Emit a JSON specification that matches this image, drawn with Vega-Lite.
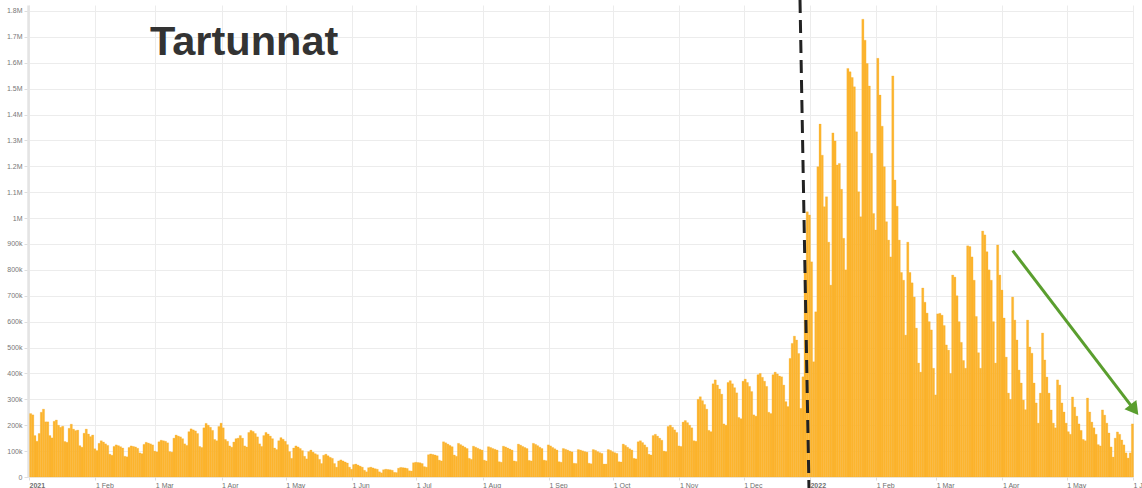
{
"$schema":"https://vega.github.io/schema/vega-lite/v6.json",
"width":1105,"height":472,"autosize":"none",
"padding":{"left":28,"top":5,"right":9,"bottom":11},
"background":"white",
"config":{"view":{"stroke":null},"font":"Liberation Sans"},
"datasets":{
"cases":[
{"date":"2021-01-01","cases":245000},{"date":"2021-01-02","cases":240000},{"date":"2021-01-03","cases":160000},{"date":"2021-01-04","cases":138000},{"date":"2021-01-05","cases":168000},{"date":"2021-01-06","cases":250000},{"date":"2021-01-07","cases":262000},{"date":"2021-01-08","cases":213000},{"date":"2021-01-09","cases":213000},{"date":"2021-01-10","cases":160000},{"date":"2021-01-11","cases":151000},{"date":"2021-01-12","cases":215000},{"date":"2021-01-13","cases":220000},{"date":"2021-01-14","cases":200000},{"date":"2021-01-15","cases":192000},{"date":"2021-01-16","cases":196000},{"date":"2021-01-17","cases":137000},{"date":"2021-01-18","cases":134000},{"date":"2021-01-19","cases":188000},{"date":"2021-01-20","cases":204000},{"date":"2021-01-21","cases":185000},{"date":"2021-01-22","cases":179000},{"date":"2021-01-23","cases":181000},{"date":"2021-01-24","cases":121000},{"date":"2021-01-25","cases":115000},{"date":"2021-01-26","cases":169000},{"date":"2021-01-27","cases":185000},{"date":"2021-01-28","cases":166000},{"date":"2021-01-29","cases":156000},{"date":"2021-01-30","cases":162000},{"date":"2021-01-31","cases":109000},
{"date":"2021-02-01","cases":102000},{"date":"2021-02-02","cases":130000},{"date":"2021-02-03","cases":140000},{"date":"2021-02-04","cases":135000},{"date":"2021-02-05","cases":128000},{"date":"2021-02-06","cases":122000},{"date":"2021-02-07","cases":88000},{"date":"2021-02-08","cases":84000},{"date":"2021-02-09","cases":118000},{"date":"2021-02-10","cases":124000},{"date":"2021-02-11","cases":121000},{"date":"2021-02-12","cases":117000},{"date":"2021-02-13","cases":112000},{"date":"2021-02-14","cases":80000},{"date":"2021-02-15","cases":78000},{"date":"2021-02-16","cases":114000},{"date":"2021-02-17","cases":120000},{"date":"2021-02-18","cases":118000},{"date":"2021-02-19","cases":116000},{"date":"2021-02-20","cases":111000},{"date":"2021-02-21","cases":93000},{"date":"2021-02-22","cases":90000},{"date":"2021-02-23","cases":126000},{"date":"2021-02-24","cases":134000},{"date":"2021-02-25","cases":131000},{"date":"2021-02-26","cases":128000},{"date":"2021-02-27","cases":124000},{"date":"2021-02-28","cases":100000},
{"date":"2021-03-01","cases":97000},{"date":"2021-03-02","cases":136000},{"date":"2021-03-03","cases":142000},{"date":"2021-03-04","cases":140000},{"date":"2021-03-05","cases":138000},{"date":"2021-03-06","cases":132000},{"date":"2021-03-07","cases":98000},{"date":"2021-03-08","cases":96000},{"date":"2021-03-09","cases":150000},{"date":"2021-03-10","cases":162000},{"date":"2021-03-11","cases":158000},{"date":"2021-03-12","cases":155000},{"date":"2021-03-13","cases":148000},{"date":"2021-03-14","cases":128000},{"date":"2021-03-15","cases":122000},{"date":"2021-03-16","cases":175000},{"date":"2021-03-17","cases":186000},{"date":"2021-03-18","cases":182000},{"date":"2021-03-19","cases":178000},{"date":"2021-03-20","cases":168000},{"date":"2021-03-21","cases":118000},{"date":"2021-03-22","cases":114000},{"date":"2021-03-23","cases":190000},{"date":"2021-03-24","cases":207000},{"date":"2021-03-25","cases":200000},{"date":"2021-03-26","cases":192000},{"date":"2021-03-27","cases":180000},{"date":"2021-03-28","cases":145000},{"date":"2021-03-29","cases":140000},{"date":"2021-03-30","cases":195000},{"date":"2021-03-31","cases":208000},
{"date":"2021-04-01","cases":190000},{"date":"2021-04-02","cases":145000},{"date":"2021-04-03","cases":138000},{"date":"2021-04-04","cases":120000},{"date":"2021-04-05","cases":115000},{"date":"2021-04-06","cases":135000},{"date":"2021-04-07","cases":148000},{"date":"2021-04-08","cases":150000},{"date":"2021-04-09","cases":160000},{"date":"2021-04-10","cases":150000},{"date":"2021-04-11","cases":120000},{"date":"2021-04-12","cases":116000},{"date":"2021-04-13","cases":172000},{"date":"2021-04-14","cases":180000},{"date":"2021-04-15","cases":176000},{"date":"2021-04-16","cases":168000},{"date":"2021-04-17","cases":155000},{"date":"2021-04-18","cases":128000},{"date":"2021-04-19","cases":118000},{"date":"2021-04-20","cases":160000},{"date":"2021-04-21","cases":172000},{"date":"2021-04-22","cases":166000},{"date":"2021-04-23","cases":158000},{"date":"2021-04-24","cases":148000},{"date":"2021-04-25","cases":112000},{"date":"2021-04-26","cases":106000},{"date":"2021-04-27","cases":140000},{"date":"2021-04-28","cases":152000},{"date":"2021-04-29","cases":146000},{"date":"2021-04-30","cases":138000},
{"date":"2021-05-01","cases":125000},{"date":"2021-05-02","cases":98000},{"date":"2021-05-03","cases":72000},{"date":"2021-05-04","cases":112000},{"date":"2021-05-05","cases":120000},{"date":"2021-05-06","cases":116000},{"date":"2021-05-07","cases":110000},{"date":"2021-05-08","cases":102000},{"date":"2021-05-09","cases":80000},{"date":"2021-05-10","cases":70000},{"date":"2021-05-11","cases":98000},{"date":"2021-05-12","cases":104000},{"date":"2021-05-13","cases":96000},{"date":"2021-05-14","cases":90000},{"date":"2021-05-15","cases":86000},{"date":"2021-05-16","cases":68000},{"date":"2021-05-17","cases":52000},{"date":"2021-05-18","cases":84000},{"date":"2021-05-19","cases":88000},{"date":"2021-05-20","cases":82000},{"date":"2021-05-21","cases":76000},{"date":"2021-05-22","cases":72000},{"date":"2021-05-23","cases":52000},{"date":"2021-05-24","cases":38000},{"date":"2021-05-25","cases":62000},{"date":"2021-05-26","cases":66000},{"date":"2021-05-27","cases":62000},{"date":"2021-05-28","cases":58000},{"date":"2021-05-29","cases":54000},{"date":"2021-05-30","cases":38000},{"date":"2021-05-31","cases":30000},
{"date":"2021-06-01","cases":48000},{"date":"2021-06-02","cases":50000},{"date":"2021-06-03","cases":46000},{"date":"2021-06-04","cases":42000},{"date":"2021-06-05","cases":38000},{"date":"2021-06-06","cases":26000},{"date":"2021-06-07","cases":20000},{"date":"2021-06-08","cases":36000},{"date":"2021-06-09","cases":38000},{"date":"2021-06-10","cases":35000},{"date":"2021-06-11","cases":32000},{"date":"2021-06-12","cases":30000},{"date":"2021-06-13","cases":20000},{"date":"2021-06-14","cases":16000},{"date":"2021-06-15","cases":28000},{"date":"2021-06-16","cases":30000},{"date":"2021-06-17","cases":29000},{"date":"2021-06-18","cases":28000},{"date":"2021-06-19","cases":26000},{"date":"2021-06-20","cases":18000},{"date":"2021-06-21","cases":17000},{"date":"2021-06-22","cases":34000},{"date":"2021-06-23","cases":37000},{"date":"2021-06-24","cases":36000},{"date":"2021-06-25","cases":35000},{"date":"2021-06-26","cases":33000},{"date":"2021-06-27","cases":24000},{"date":"2021-06-28","cases":23000},{"date":"2021-06-29","cases":55000},{"date":"2021-06-30","cases":57000},
{"date":"2021-07-01","cases":56000},{"date":"2021-07-02","cases":55000},{"date":"2021-07-03","cases":52000},{"date":"2021-07-04","cases":40000},{"date":"2021-07-05","cases":38000},{"date":"2021-07-06","cases":86000},{"date":"2021-07-07","cases":89000},{"date":"2021-07-08","cases":87000},{"date":"2021-07-09","cases":85000},{"date":"2021-07-10","cases":82000},{"date":"2021-07-11","cases":65000},{"date":"2021-07-12","cases":62000},{"date":"2021-07-13","cases":136000},{"date":"2021-07-14","cases":132000},{"date":"2021-07-15","cases":127000},{"date":"2021-07-16","cases":122000},{"date":"2021-07-17","cases":117000},{"date":"2021-07-18","cases":85000},{"date":"2021-07-19","cases":80000},{"date":"2021-07-20","cases":130000},{"date":"2021-07-21","cases":125000},{"date":"2021-07-22","cases":120000},{"date":"2021-07-23","cases":115000},{"date":"2021-07-24","cases":110000},{"date":"2021-07-25","cases":72000},{"date":"2021-07-26","cases":68000},{"date":"2021-07-27","cases":119000},{"date":"2021-07-28","cases":115000},{"date":"2021-07-29","cases":111000},{"date":"2021-07-30","cases":107000},{"date":"2021-07-31","cases":104000},
{"date":"2021-08-01","cases":65000},{"date":"2021-08-02","cases":62000},{"date":"2021-08-03","cases":117000},{"date":"2021-08-04","cases":114000},{"date":"2021-08-05","cases":110000},{"date":"2021-08-06","cases":107000},{"date":"2021-08-07","cases":104000},{"date":"2021-08-08","cases":59000},{"date":"2021-08-09","cases":57000},{"date":"2021-08-10","cases":119000},{"date":"2021-08-11","cases":116000},{"date":"2021-08-12","cases":112000},{"date":"2021-08-13","cases":108000},{"date":"2021-08-14","cases":104000},{"date":"2021-08-15","cases":62000},{"date":"2021-08-16","cases":60000},{"date":"2021-08-17","cases":127000},{"date":"2021-08-18","cases":123000},{"date":"2021-08-19","cases":118000},{"date":"2021-08-20","cases":114000},{"date":"2021-08-21","cases":110000},{"date":"2021-08-22","cases":64000},{"date":"2021-08-23","cases":62000},{"date":"2021-08-24","cases":130000},{"date":"2021-08-25","cases":126000},{"date":"2021-08-26","cases":121000},{"date":"2021-08-27","cases":115000},{"date":"2021-08-28","cases":110000},{"date":"2021-08-29","cases":65000},{"date":"2021-08-30","cases":63000},{"date":"2021-08-31","cases":124000},
{"date":"2021-09-01","cases":120000},{"date":"2021-09-02","cases":114000},{"date":"2021-09-03","cases":109000},{"date":"2021-09-04","cases":104000},{"date":"2021-09-05","cases":59000},{"date":"2021-09-06","cases":57000},{"date":"2021-09-07","cases":110000},{"date":"2021-09-08","cases":107000},{"date":"2021-09-09","cases":104000},{"date":"2021-09-10","cases":100000},{"date":"2021-09-11","cases":97000},{"date":"2021-09-12","cases":53000},{"date":"2021-09-13","cases":52000},{"date":"2021-09-14","cases":106000},{"date":"2021-09-15","cases":104000},{"date":"2021-09-16","cases":101000},{"date":"2021-09-17","cases":98000},{"date":"2021-09-18","cases":96000},{"date":"2021-09-19","cases":53000},{"date":"2021-09-20","cases":51000},{"date":"2021-09-21","cases":106000},{"date":"2021-09-22","cases":103000},{"date":"2021-09-23","cases":98000},{"date":"2021-09-24","cases":94000},{"date":"2021-09-25","cases":91000},{"date":"2021-09-26","cases":50000},{"date":"2021-09-27","cases":50000},{"date":"2021-09-28","cases":106000},{"date":"2021-09-29","cases":103000},{"date":"2021-09-30","cases":98000},
{"date":"2021-10-01","cases":94000},{"date":"2021-10-02","cases":91000},{"date":"2021-10-03","cases":59000},{"date":"2021-10-04","cases":58000},{"date":"2021-10-05","cases":127000},{"date":"2021-10-06","cases":122000},{"date":"2021-10-07","cases":115000},{"date":"2021-10-08","cases":109000},{"date":"2021-10-09","cases":104000},{"date":"2021-10-10","cases":72000},{"date":"2021-10-11","cases":70000},{"date":"2021-10-12","cases":136000},{"date":"2021-10-13","cases":140000},{"date":"2021-10-14","cases":133000},{"date":"2021-10-15","cases":124000},{"date":"2021-10-16","cases":115000},{"date":"2021-10-17","cases":88000},{"date":"2021-10-18","cases":85000},{"date":"2021-10-19","cases":160000},{"date":"2021-10-20","cases":165000},{"date":"2021-10-21","cases":158000},{"date":"2021-10-22","cases":150000},{"date":"2021-10-23","cases":142000},{"date":"2021-10-24","cases":100000},{"date":"2021-10-25","cases":98000},{"date":"2021-10-26","cases":195000},{"date":"2021-10-27","cases":200000},{"date":"2021-10-28","cases":192000},{"date":"2021-10-29","cases":182000},{"date":"2021-10-30","cases":172000},{"date":"2021-10-31","cases":120000},
{"date":"2021-11-01","cases":118000},{"date":"2021-11-02","cases":212000},{"date":"2021-11-03","cases":218000},{"date":"2021-11-04","cases":210000},{"date":"2021-11-05","cases":200000},{"date":"2021-11-06","cases":190000},{"date":"2021-11-07","cases":140000},{"date":"2021-11-08","cases":138000},{"date":"2021-11-09","cases":300000},{"date":"2021-11-10","cases":310000},{"date":"2021-11-11","cases":295000},{"date":"2021-11-12","cases":280000},{"date":"2021-11-13","cases":262000},{"date":"2021-11-14","cases":180000},{"date":"2021-11-15","cases":175000},{"date":"2021-11-16","cases":360000},{"date":"2021-11-17","cases":375000},{"date":"2021-11-18","cases":355000},{"date":"2021-11-19","cases":340000},{"date":"2021-11-20","cases":320000},{"date":"2021-11-21","cases":205000},{"date":"2021-11-22","cases":200000},{"date":"2021-11-23","cases":365000},{"date":"2021-11-24","cases":372000},{"date":"2021-11-25","cases":360000},{"date":"2021-11-26","cases":345000},{"date":"2021-11-27","cases":325000},{"date":"2021-11-28","cases":230000},{"date":"2021-11-29","cases":225000},{"date":"2021-11-30","cases":370000},
{"date":"2021-12-01","cases":378000},{"date":"2021-12-02","cases":365000},{"date":"2021-12-03","cases":350000},{"date":"2021-12-04","cases":330000},{"date":"2021-12-05","cases":240000},{"date":"2021-12-06","cases":235000},{"date":"2021-12-07","cases":395000},{"date":"2021-12-08","cases":400000},{"date":"2021-12-09","cases":385000},{"date":"2021-12-10","cases":370000},{"date":"2021-12-11","cases":350000},{"date":"2021-12-12","cases":250000},{"date":"2021-12-13","cases":245000},{"date":"2021-12-14","cases":395000},{"date":"2021-12-15","cases":405000},{"date":"2021-12-16","cases":398000},{"date":"2021-12-17","cases":390000},{"date":"2021-12-18","cases":387000},{"date":"2021-12-19","cases":355000},{"date":"2021-12-20","cases":291000},{"date":"2021-12-21","cases":272000},{"date":"2021-12-22","cases":458000},{"date":"2021-12-23","cases":516000},{"date":"2021-12-24","cases":544000},{"date":"2021-12-25","cases":529000},{"date":"2021-12-26","cases":477000},{"date":"2021-12-27","cases":265000},{"date":"2021-12-28","cases":387000},{"date":"2021-12-29","cases":793000},{"date":"2021-12-30","cases":1024000},{"date":"2021-12-31","cases":1012000},
{"date":"2022-01-01","cases":831000},{"date":"2022-01-02","cases":445000},{"date":"2022-01-03","cases":638000},{"date":"2022-01-04","cases":1198000},{"date":"2022-01-05","cases":1363000},{"date":"2022-01-06","cases":1243000},{"date":"2022-01-07","cases":1044000},{"date":"2022-01-08","cases":1082000},{"date":"2022-01-09","cases":907000},{"date":"2022-01-10","cases":741000},{"date":"2022-01-11","cases":1329000},{"date":"2022-01-12","cases":1298000},{"date":"2022-01-13","cases":1205000},{"date":"2022-01-14","cases":1211000},{"date":"2022-01-15","cases":1111000},{"date":"2022-01-16","cases":922000},{"date":"2022-01-17","cases":800000},{"date":"2022-01-18","cases":1578000},{"date":"2022-01-19","cases":1565000},{"date":"2022-01-20","cases":1543000},{"date":"2022-01-21","cases":1507000},{"date":"2022-01-22","cases":1333000},{"date":"2022-01-23","cases":1102000},{"date":"2022-01-24","cases":1005000},{"date":"2022-01-25","cases":1768000},{"date":"2022-01-26","cases":1687000},{"date":"2022-01-27","cases":1597000},{"date":"2022-01-28","cases":1510000},{"date":"2022-01-29","cases":1250000},{"date":"2022-01-30","cases":1018000},{"date":"2022-01-31","cases":954000},
{"date":"2022-02-01","cases":1617000},{"date":"2022-02-02","cases":1475000},{"date":"2022-02-03","cases":1355000},{"date":"2022-02-04","cases":1198000},{"date":"2022-02-05","cases":986000},{"date":"2022-02-06","cases":915000},{"date":"2022-02-07","cases":850000},{"date":"2022-02-08","cases":1549000},{"date":"2022-02-09","cases":1147000},{"date":"2022-02-10","cases":1046000},{"date":"2022-02-11","cases":915000},{"date":"2022-02-12","cases":790000},{"date":"2022-02-13","cases":760000},{"date":"2022-02-14","cases":548000},{"date":"2022-02-15","cases":907000},{"date":"2022-02-16","cases":790000},{"date":"2022-02-17","cases":750000},{"date":"2022-02-18","cases":695000},{"date":"2022-02-19","cases":575000},{"date":"2022-02-20","cases":440000},{"date":"2022-02-21","cases":405000},{"date":"2022-02-22","cases":730000},{"date":"2022-02-23","cases":675000},{"date":"2022-02-24","cases":633000},{"date":"2022-02-25","cases":600000},{"date":"2022-02-26","cases":568000},{"date":"2022-02-27","cases":420000},{"date":"2022-02-28","cases":317000},
{"date":"2022-03-01","cases":630000},{"date":"2022-03-02","cases":632000},{"date":"2022-03-03","cases":625000},{"date":"2022-03-04","cases":585000},{"date":"2022-03-05","cases":510000},{"date":"2022-03-06","cases":490000},{"date":"2022-03-07","cases":400000},{"date":"2022-03-08","cases":780000},{"date":"2022-03-09","cases":772000},{"date":"2022-03-10","cases":700000},{"date":"2022-03-11","cases":600000},{"date":"2022-03-12","cases":520000},{"date":"2022-03-13","cases":450000},{"date":"2022-03-14","cases":420000},{"date":"2022-03-15","cases":893000},{"date":"2022-03-16","cases":890000},{"date":"2022-03-17","cases":850000},{"date":"2022-03-18","cases":760000},{"date":"2022-03-19","cases":620000},{"date":"2022-03-20","cases":480000},{"date":"2022-03-21","cases":420000},{"date":"2022-03-22","cases":950000},{"date":"2022-03-23","cases":935000},{"date":"2022-03-24","cases":870000},{"date":"2022-03-25","cases":800000},{"date":"2022-03-26","cases":760000},{"date":"2022-03-27","cases":600000},{"date":"2022-03-28","cases":440000},{"date":"2022-03-29","cases":896000},{"date":"2022-03-30","cases":780000},{"date":"2022-03-31","cases":722000},
{"date":"2022-04-01","cases":614000},{"date":"2022-04-02","cases":463000},{"date":"2022-04-03","cases":324000},{"date":"2022-04-04","cases":300000},{"date":"2022-04-05","cases":695000},{"date":"2022-04-06","cases":606000},{"date":"2022-04-07","cases":529000},{"date":"2022-04-08","cases":413000},{"date":"2022-04-09","cases":363000},{"date":"2022-04-10","cases":297000},{"date":"2022-04-11","cases":260000},{"date":"2022-04-12","cases":606000},{"date":"2022-04-13","cases":502000},{"date":"2022-04-14","cases":478000},{"date":"2022-04-15","cases":363000},{"date":"2022-04-16","cases":286000},{"date":"2022-04-17","cases":208000},{"date":"2022-04-18","cases":324000},{"date":"2022-04-19","cases":556000},{"date":"2022-04-20","cases":452000},{"date":"2022-04-21","cases":386000},{"date":"2022-04-22","cases":324000},{"date":"2022-04-23","cases":259000},{"date":"2022-04-24","cases":208000},{"date":"2022-04-25","cases":190000},{"date":"2022-04-26","cases":375000},{"date":"2022-04-27","cases":355000},{"date":"2022-04-28","cases":286000},{"date":"2022-04-29","cases":251000},{"date":"2022-04-30","cases":208000},
{"date":"2022-05-01","cases":175000},{"date":"2022-05-02","cases":165000},{"date":"2022-05-03","cases":309000},{"date":"2022-05-04","cases":270000},{"date":"2022-05-05","cases":235000},{"date":"2022-05-06","cases":205000},{"date":"2022-05-07","cases":180000},{"date":"2022-05-08","cases":145000},{"date":"2022-05-09","cases":140000},{"date":"2022-05-10","cases":305000},{"date":"2022-05-11","cases":251000},{"date":"2022-05-12","cases":212000},{"date":"2022-05-13","cases":190000},{"date":"2022-05-14","cases":165000},{"date":"2022-05-15","cases":125000},{"date":"2022-05-16","cases":120000},{"date":"2022-05-17","cases":259000},{"date":"2022-05-18","cases":239000},{"date":"2022-05-19","cases":208000},{"date":"2022-05-20","cases":170000},{"date":"2022-05-21","cases":116000},{"date":"2022-05-22","cases":77000},{"date":"2022-05-23","cases":150000},{"date":"2022-05-24","cases":174000},{"date":"2022-05-25","cases":165000},{"date":"2022-05-26","cases":143000},{"date":"2022-05-27","cases":124000},{"date":"2022-05-28","cases":93000},{"date":"2022-05-29","cases":73000},{"date":"2022-05-30","cases":93000},{"date":"2022-05-31","cases":205000}
],
"marker":[{"date":"2021-12-27T08:24:00Z","cases":1842300,"date2":"2021-12-31T13:00:00Z","cases2":-42500}],
"arrow":[{"date":"2022-04-05T18:30:00Z","cases":874000,"date2":"2022-05-31T02:00:00Z","cases2":276000}],
"arrowhead":[{"date":"2022-06-01T15:30:00Z","cases":259500}],
"label":[{"date":"2021-02-26T12:45:00Z","cases":1630000,"text":"Tartunnat"}]
},
"encoding":{
"x":{"field":"date","type":"temporal","title":null,
"scale":{"type":"utc","domain":[{"year":2020,"month":12,"date":31,"hours":12,"utc":true},{"year":2022,"month":6,"date":1,"utc":true}]},
"axis":{"title":null,"domain":false,"tickSize":3,"tickColor":"#dddddd","gridColor":"#ececec","gridWidth":1,
"values":[{"year":2021,"month":1,"date":1,"utc":true},{"year":2021,"month":2,"date":1,"utc":true},{"year":2021,"month":3,"date":1,"utc":true},{"year":2021,"month":4,"date":1,"utc":true},{"year":2021,"month":5,"date":1,"utc":true},{"year":2021,"month":6,"date":1,"utc":true},{"year":2021,"month":7,"date":1,"utc":true},{"year":2021,"month":8,"date":1,"utc":true},{"year":2021,"month":9,"date":1,"utc":true},{"year":2021,"month":10,"date":1,"utc":true},{"year":2021,"month":11,"date":1,"utc":true},{"year":2021,"month":12,"date":1,"utc":true},{"year":2022,"month":1,"date":1,"utc":true},{"year":2022,"month":2,"date":1,"utc":true},{"year":2022,"month":3,"date":1,"utc":true},{"year":2022,"month":4,"date":1,"utc":true},{"year":2022,"month":5,"date":1,"utc":true},{"year":2022,"month":6,"date":1,"utc":true}],
"labelExpr":"utcmonth(datum.value) == 0 ? utcFormat(datum.value, '%Y') : '1 ' + utcFormat(datum.value, '%b')",
"labelAlign":"left","labelBaseline":"top","labelPadding":1,"labelFontSize":7,"labelColor":"#6f6f6f","labelFont":"Liberation Sans",
"labelFontWeight":{"condition":{"test":"utcmonth(datum.value) == 0","value":"bold"},"value":"normal"},
"labelOverlap":false,"labelFlush":false,"labelBound":false}},
"y":{"field":"cases","type":"quantitative","title":null,
"scale":{"domain":[0,1823000],"nice":false,"zero":true},
"axis":{"title":null,"values":[0,100000,200000,300000,400000,500000,600000,700000,800000,900000,1000000,1100000,1200000,1300000,1400000,1500000,1600000,1700000,1800000],
"labelExpr":"datum.value == 0 ? '0' : (datum.value >= 1000000 ? format(datum.value/1000000, '.1~f') + 'M' : format(datum.value/1000, 'd') + 'k')",
"labelOverlap":false,"labelFlush":false,
"labelFontSize":7,"labelColor":"#777777","labelFont":"Liberation Sans","labelPadding":2,"tickSize":4,"tickColor":"#dddddd",
"domainColor":"#e4e4e4","domainWidth":2.5,"gridColor":"#ececec","gridWidth":1}}
},
"layer":[
{"data":{"name":"cases"},
"mark":{"type":"bar","color":"#fdb52f","stroke":"#f4a91f","strokeWidth":0.25,"binSpacing":0},
"encoding":{
"x":{"field":"date","type":"temporal","timeUnit":"utcyearmonthdate","title":null,
"scale":{"type":"utc","domain":[{"year":2020,"month":12,"date":31,"hours":12,"utc":true},{"year":2022,"month":6,"date":1,"utc":true}]},
"axis":{"title":null,"domain":false,"tickSize":3,"tickColor":"#dddddd","gridColor":"#ececec","gridWidth":1,
"values":[{"year":2021,"month":1,"date":1,"utc":true},{"year":2021,"month":2,"date":1,"utc":true},{"year":2021,"month":3,"date":1,"utc":true},{"year":2021,"month":4,"date":1,"utc":true},{"year":2021,"month":5,"date":1,"utc":true},{"year":2021,"month":6,"date":1,"utc":true},{"year":2021,"month":7,"date":1,"utc":true},{"year":2021,"month":8,"date":1,"utc":true},{"year":2021,"month":9,"date":1,"utc":true},{"year":2021,"month":10,"date":1,"utc":true},{"year":2021,"month":11,"date":1,"utc":true},{"year":2021,"month":12,"date":1,"utc":true},{"year":2022,"month":1,"date":1,"utc":true},{"year":2022,"month":2,"date":1,"utc":true},{"year":2022,"month":3,"date":1,"utc":true},{"year":2022,"month":4,"date":1,"utc":true},{"year":2022,"month":5,"date":1,"utc":true},{"year":2022,"month":6,"date":1,"utc":true}],
"labelExpr":"utcmonth(datum.value) == 0 ? utcFormat(datum.value, '%Y') : '1 ' + utcFormat(datum.value, '%b')",
"labelAlign":"left","labelBaseline":"top","labelPadding":1,"labelFontSize":7,"labelColor":"#6f6f6f","labelFont":"Liberation Sans",
"labelFontWeight":{"condition":{"test":"utcmonth(datum.value) == 0","value":"bold"},"value":"normal"},
"labelOverlap":false,"labelFlush":false,"labelBound":false}}
}},
{"data":{"name":"marker"},
"mark":{"type":"rule","color":"#222222","strokeWidth":3,"strokeDash":[13,7],"clip":false},
"encoding":{"x2":{"field":"date2"},"y2":{"field":"cases2"}}},
{"data":{"name":"arrow"},
"mark":{"type":"rule","color":"#5a9e2e","strokeWidth":3,"clip":false},
"encoding":{"x2":{"field":"date2"},"y2":{"field":"cases2"}}},
{"data":{"name":"arrowhead"},
"mark":{"type":"point","shape":"triangle-up","filled":true,"color":"#5a9e2e","opacity":1,"size":225,"angle":142.6,"clip":false},
"encoding":{}},
{"data":{"name":"label"},
"mark":{"type":"text","font":"Liberation Sans","fontWeight":"bold","fontSize":41.5,"color":"#333333","align":"left","baseline":"alphabetic"},
"encoding":{"text":{"field":"text"}}}
]
}
